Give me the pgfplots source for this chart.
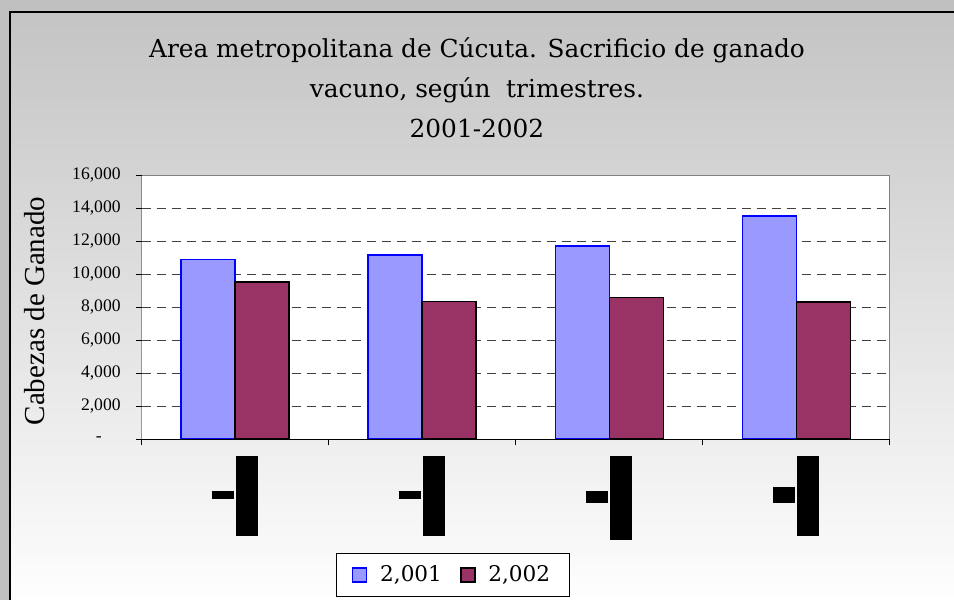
\documentclass[border=0pt]{standalone}
\usepackage{fontspec}
\setmainfont{Liberation Serif}
\newfontfamily\djs{DejaVu Serif}
\usepackage{pgfplots}
\pgfplotsset{compat=1.18}
\definecolor{bluebar}{RGB}{153,153,255}
\definecolor{plumbar}{RGB}{153,51,102}
\definecolor{bgtop}{RGB}{196,196,196}
\definecolor{bgbot}{RGB}{254,254,254}
\definecolor{outergray}{RGB}{192,192,192}
\definecolor{framegray}{RGB}{128,128,128}
\newcommand{\tl}[3]{\llap{\raisebox{#2}{\rule{11pt}{#1}}\hspace{1pt}}\rule{11pt}{#3}}
\begin{document}
\begin{tikzpicture}
\useasboundingbox (0pt,0pt) rectangle (477pt,300pt);
\begin{scope}[x=0.5pt,y=0.5pt]
\fill[outergray] (0,0) rectangle (954,600);
\shade[top color=bgtop, bottom color=bgbot] (10,0) rectangle (954,588);
\fill[black] (9,0) rectangle (11,589);
\fill[black] (9,587) rectangle (954,589);
\node[font=\djs\fontsize{12.4}{15}\selectfont, anchor=base] at (477,542) {Area metropolitana de Cúcuta. Sacrificio de ganado};
\node[font=\djs\fontsize{12.4}{15}\selectfont, anchor=base] at (477,502) {vacuno, según\ \ trimestres.};
\node[font=\djs\fontsize{12.4}{15}\selectfont, anchor=base] at (477,462) {2001-2002};
\node[font=\fontsize{14.5}{17}\selectfont, rotate=90, anchor=base] at (45,289) {Cabezas de Ganado};
\end{scope}
\begin{axis}[
  at={(70.85pt,80.35pt)}, anchor=south west,
  scale only axis, width=374.15pt, height=132pt,
  axis background/.style={fill=white},
  axis line style={draw=none},
  ybar=0pt, bar width=27pt,
  xmin=-0.5, xmax=3.5, ymin=0, ymax=16000,
  scaled y ticks=false,
  xtick={-0.5,0.5,1.5,2.5,3.5}, xticklabels={},
  extra x ticks={0,1,2,3},
  extra x tick labels={{\tl{4pt}{18.5pt}{40pt}},{\tl{4pt}{18.5pt}{40pt}},{\tl{6pt}{18.5pt}{42pt}},{\tl{8pt}{16.5pt}{40pt}}},
  extra x tick style={major tick length=0pt, xticklabel style={anchor=north west, inner sep=0pt, yshift=-8.35pt}},
  ytick={0,2000,4000,6000,8000,10000,12000,14000,16000},
  yticklabels={{-\hspace*{9.5pt}},{2,000},{4,000},{6,000},{8,000},{10,000},{12,000},{14,000},{16,000}},
  yticklabel style={font=\fontsize{8.8}{10}\selectfont, xshift=-4pt},
  xtick pos=bottom, ytick pos=left,
  tick align=outside, major tick length=3pt,
  tick style={black, line width=0.5pt},
  ymajorgrids,
  grid style={dash pattern=on 4.5pt off 3pt, black!75, line width=0.5pt},
  legend style={at={(0.416,-0.514)}, anchor=center, draw=black, fill=white, line width=0.5pt,
    font=\djs\fontsize{10.8}{13}\selectfont, inner xsep=7.5pt, inner ysep=4pt},
  legend columns=2,
  legend image code/.code={\draw[#1, line width=0.8pt] (0pt,-3.5pt) rectangle (7pt,3.5pt);},
  /tikz/every odd column/.append style={column sep=4.4pt},
  /tikz/every even column/.append style={column sep=7pt},
]
\addplot[fill=bluebar, draw=blue, line width=0.85pt] coordinates {(0,10900) (1,11150) (2,11700) (3,13550)};
\addplot[fill=plumbar, draw=black, line width=0.85pt] coordinates {(0,9550) (1,8350) (2,8600) (3,8300)};
\draw[framegray, line width=1pt] (rel axis cs:0,1) -- (rel axis cs:1,1) -- (rel axis cs:1,0);
\draw[black, line width=0.6pt] (rel axis cs:0,1) -- (rel axis cs:0,0) -- (rel axis cs:1,0);
\legend{{2,001},{2,002}}
\end{axis}
\end{tikzpicture}
\end{document}
